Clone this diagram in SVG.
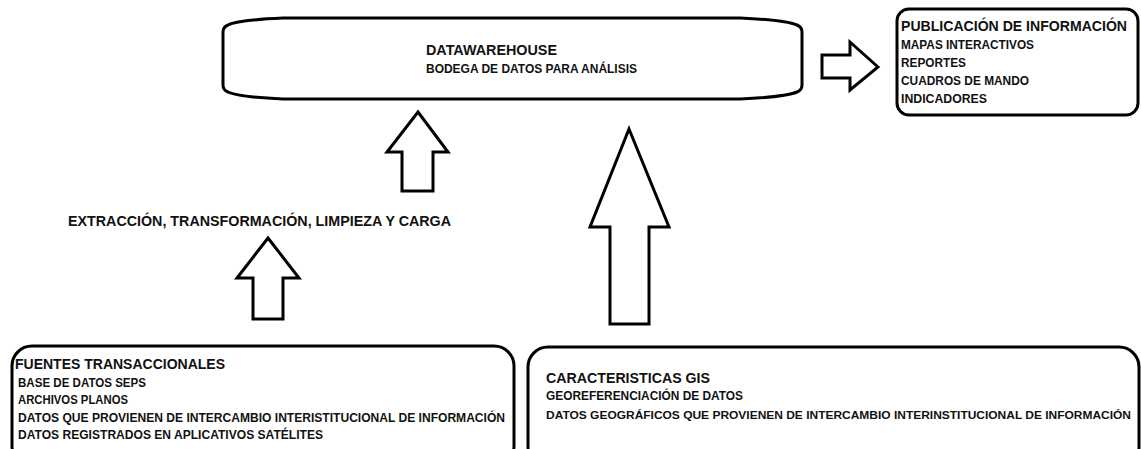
<svg xmlns="http://www.w3.org/2000/svg" width="1141" height="449" viewBox="0 0 1141 449">
<style>
.shape{fill:#fff;stroke:#000;stroke-width:3;stroke-linejoin:miter}
.arrow{fill:#fff;stroke:#000;stroke-width:3;stroke-linejoin:miter}
text{font-family:"Liberation Sans",Arial,sans-serif;font-weight:bold;fill:#111}
.h{font-size:15.5px}
.t{font-size:12.5px}
</style>
<rect width="1141" height="449" fill="#fff"/>
<g id="datawarehouse">
<path class="shape" d="M283 18 L740 18 Q785 20 797 25 Q802 27 802 32 L802 85 Q802 90 797 92 Q785 97 740 99 L283 99 Q238 97 228 92 Q223 90 223 85 L223 32 Q223 27 228 25 Q238 20 283 18 Z"/>
<text class="h" x="426" y="55" textLength="131" lengthAdjust="spacingAndGlyphs">DATAWAREHOUSE</text>
<text class="t" x="426" y="73" textLength="211" lengthAdjust="spacingAndGlyphs">BODEGA DE DATOS PARA ANÁLISIS</text>
</g>
<g id="publicacion">
<rect class="shape" x="897" y="9" width="241" height="106" rx="12" ry="12"/>
<text class="h" x="901" y="31" style="font-size:14px" textLength="226" lengthAdjust="spacingAndGlyphs">PUBLICACIÓN DE INFORMACIÓN</text>
<text class="t" x="901" y="49" textLength="133" lengthAdjust="spacingAndGlyphs">MAPAS INTERACTIVOS</text>
<text class="t" x="901" y="67" textLength="65" lengthAdjust="spacingAndGlyphs">REPORTES</text>
<text class="t" x="901" y="85" textLength="128" lengthAdjust="spacingAndGlyphs">CUADROS DE MANDO</text>
<text class="t" x="901" y="103" textLength="86" lengthAdjust="spacingAndGlyphs">INDICADORES</text>
</g>
<g id="etl-label">
<text class="h" x="68" y="226" textLength="383" lengthAdjust="spacingAndGlyphs">EXTRACCIÓN, TRANSFORMACIÓN, LIMPIEZA Y CARGA</text>
</g>
<g id="fuentes">
<rect class="shape" x="12" y="346" width="502" height="120" rx="20" ry="20"/>
<text class="h" x="15" y="369" textLength="210" lengthAdjust="spacingAndGlyphs">FUENTES TRANSACCIONALES</text>
<text class="t" x="18" y="387" textLength="128" lengthAdjust="spacingAndGlyphs">BASE DE DATOS SEPS</text>
<text class="t" x="18" y="404" textLength="110" lengthAdjust="spacingAndGlyphs">ARCHIVOS PLANOS</text>
<text class="t" x="18" y="421.5" textLength="487" lengthAdjust="spacingAndGlyphs">DATOS QUE PROVIENEN DE INTERCAMBIO INTERISTITUCIONAL DE INFORMACIÓN</text>
<text class="t" x="18" y="439" textLength="305" lengthAdjust="spacingAndGlyphs">DATOS REGISTRADOS EN APLICATIVOS SATÉLITES</text>
</g>
<g id="gis">
<rect class="shape" x="528" y="347" width="611" height="120" rx="20" ry="20"/>
<text class="h" x="546" y="383" textLength="164" lengthAdjust="spacingAndGlyphs">CARACTERISTICAS GIS</text>
<text class="t" x="546" y="400" textLength="197" lengthAdjust="spacingAndGlyphs">GEOREFERENCIACIÓN DE DATOS</text>
<text class="t" x="546" y="419" style="font-size:11.8px" textLength="585" lengthAdjust="spacingAndGlyphs">DATOS GEOGRÁFICOS QUE PROVIENEN DE INTERCAMBIO INTERINSTITUCIONAL DE INFORMACIÓN</text>
</g>
<g id="connectors">
<polygon class="arrow" points="418,112 448,152 433,152 433,191 402,191 402,152 387,152"/>
<polygon class="arrow" points="268,238 299,278 283,278 283,319 253,319 253,278 237,278"/>
<polygon class="arrow" points="629,129 669,227 649,227 649,324 610,324 610,227 590,227"/>
<polygon class="arrow" points="878,67 850,42 850,55 822,55 822,78 850,78 850,90"/>
</g>
</svg>
